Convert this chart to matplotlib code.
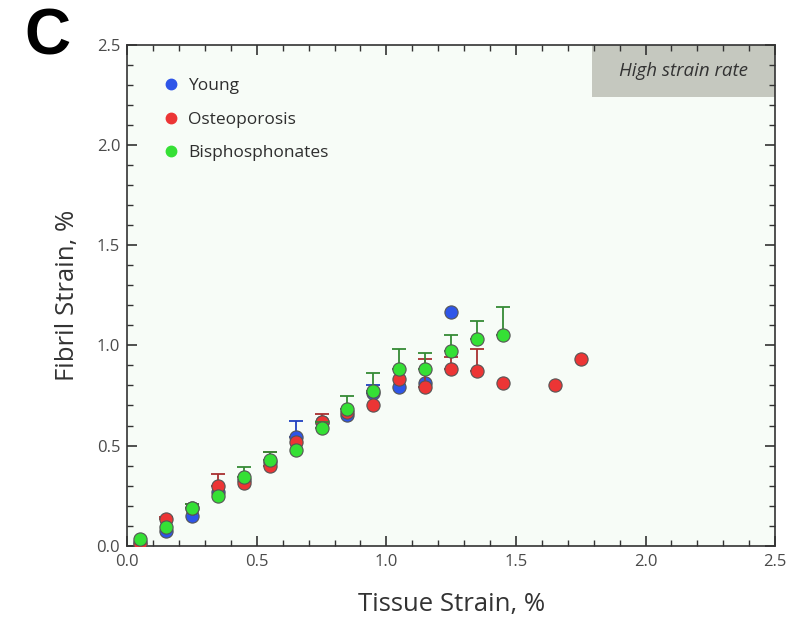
import numpy as np
import matplotlib.pyplot as plt
from matplotlib.lines import Line2D
from matplotlib.patches import Rectangle
from matplotlib.ticker import MultipleLocator

plt.rcParams['font.family'] = ['Open Sans', 'DejaVu Sans']

# tissue strain (%)
x_young = [0.05, 0.15, 0.25, 0.35, 0.45, 0.55, 0.65, 0.75, 0.85, 0.95, 1.05, 1.15, 1.25]
y_young = [0.02, 0.075, 0.15, 0.27, 0.33, 0.42, 0.545, 0.62, 0.655, 0.76, 0.79, 0.81, 1.165]
e_young = [0, 0, 0, 0, 0, 0, 0.08, 0, 0, 0.04, 0, 0, 0]

x_osteo = [0.05, 0.15, 0.25, 0.35, 0.45, 0.55, 0.65, 0.75, 0.85, 0.95, 1.05, 1.15, 1.25,
           1.35, 1.45, 1.65, 1.75]
y_osteo = [0.01, 0.135, 0.19, 0.30, 0.315, 0.40, 0.52, 0.62, 0.67, 0.70, 0.83, 0.79, 0.88,
           0.87, 0.81, 0.80, 0.93]
e_osteo = [0, 0.01, 0.02, 0.06, 0, 0.07, 0, 0.04, 0, 0, 0, 0.14, 0.06,
           0.11, 0, 0, 0]

x_bis = [0.05, 0.15, 0.25, 0.35, 0.45, 0.55, 0.65, 0.75, 0.85, 0.95, 1.05, 1.15, 1.25,
         1.35, 1.45]
y_bis = [0.035, 0.095, 0.19, 0.25, 0.345, 0.43, 0.48, 0.59, 0.685, 0.77, 0.88, 0.88, 0.97,
         1.03, 1.05]
e_bis = [0, 0, 0.02, 0, 0.05, 0.04, 0, 0.03, 0.06, 0.09, 0.10, 0.08, 0.08,
         0.09, 0.14]

fig = plt.figure(figsize=(8.1, 6.23), dpi=100)
ax = fig.add_axes([0.157, 0.124, 0.8, 0.804])
ax.set_facecolor('#f7fcf7')

series = [
    ('Young', x_young, y_young, e_young, '#2e55e8', '#2040c0'),
    ('Osteoporosis', x_osteo, y_osteo, e_osteo, '#ec3535', '#a83030'),
    ('Bisphosphonates', x_bis, y_bis, e_bis, '#35e035', '#358a35'),
]

handles = []
for i, (name, xs, ys, es, col, ecol) in enumerate(series):
    xs = np.array(xs)
    ys = np.array(ys)
    es = np.array(es)
    m = es > 0
    ax.errorbar(xs[m], ys[m], yerr=[np.zeros(m.sum()), es[m]], fmt='none',
                ecolor=ecol, elinewidth=1.3, capsize=5, capthick=1.3, zorder=2 + 2 * i)
    ax.plot(xs, ys, 'o', ms=9.5, mfc=col, mec='#555555', mew=0.8, zorder=3 + 2 * i)
    handles.append(Line2D([], [], marker='o', ls='none', ms=7.5, mfc=col, mec=col, label=name))

ax.legend(handles=handles, loc='upper left', bbox_to_anchor=(0.03, 0.965), frameon=False,
          fontsize=12.5, handletextpad=0.5, labelspacing=1.0, handlelength=1.0,
          labelcolor='#2e2e2e')

ax.set_xlim(0, 2.5)
ax.set_ylim(0, 2.5)
ax.xaxis.set_major_locator(MultipleLocator(0.5))
ax.xaxis.set_minor_locator(MultipleLocator(0.1))
ax.yaxis.set_major_locator(MultipleLocator(0.5))
ax.yaxis.set_minor_locator(MultipleLocator(0.1))
ax.xaxis.set_major_formatter(plt.FormatStrFormatter('%.1f'))
ax.yaxis.set_major_formatter(plt.FormatStrFormatter('%.1f'))
ax.tick_params(which='both', direction='in', top=True, right=True, colors='#333333',
               labelcolor='#4a4a4a', labelsize=12)
ax.tick_params(axis='x', which='major', pad=6)
ax.tick_params(axis='y', which='major', pad=5)
ax.tick_params(which='major', length=7, width=1.2)
ax.tick_params(which='minor', length=4, width=1.0)
for s in ax.spines.values():
    s.set_color('#333333')
    s.set_linewidth(1.2)

ax.set_xlabel('Tissue Strain, %', fontsize=18.5, color='#333333', labelpad=16)
ax.set_ylabel('Fibril Strain, %', fontsize=18.5, color='#333333', labelpad=12)

# grey label box in the top right corner
ax.add_patch(Rectangle((0.718, 0.896), 0.282, 0.104, transform=ax.transAxes,
                       fc='#c5c8bf', ec='none', zorder=1))
ax.text(0.859, 0.948, 'High strain rate', transform=ax.transAxes, ha='center', va='center',
        fontsize=13.5, style='italic', color='#333333', zorder=2)

fig.text(0.059, 0.94, 'C', fontsize=46, fontweight='bold', ha='center', va='center',
         family='Liberation Sans')

fig.savefig('out.png', dpi=100)
